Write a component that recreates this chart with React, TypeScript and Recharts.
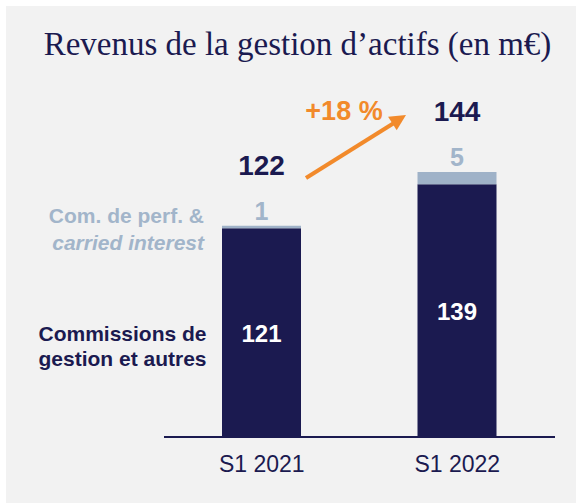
import React from 'react';
import { BarChart, Bar, XAxis, YAxis, LabelList } from 'recharts';

const periods = ['S1 2021', 'S1 2022'];
const commissions = [121, 139];
const perfCarried = [1, 5];
const totals = [122, 144];
const growthLabel = '+18 %';
const titleText = 'Revenus de la gestion d\u2019actifs (en m\u20ac)';

const NAVY = '#1b1a50';
const GREY = '#9fb2c8';
const GREY_TEXT = '#a2b5ca';
const ORANGE = '#f28a2b';
const BG = '#f2f2f2';
const FONT = '"Liberation Sans", Arial, sans-serif';

const W = 576;
const H = 503;
const MARGIN = { top: 84, right: 21, bottom: 26, left: 164 };
const X_AXIS_H = 40;
const PLOT_BOTTOM = H - MARGIN.bottom - X_AXIS_H;

const data = periods.map((p, i) => ({
  period: p,
  commissions: commissions[i],
  perf: perfCarried[i],
  total: totals[i],
}));

// label inside the navy bar, centred on the visible part only
const InnerLabel = (props: any) => {
  const { x, y, width, height, value } = props;
  const bottom = Math.min(y + height, PLOT_BOTTOM);
  return (
    <text
      x={x + width / 2}
      y={(y + bottom) / 2 + 9}
      textAnchor="middle"
      fill="#ffffff"
      fontFamily={FONT}
      fontWeight="bold"
      fontSize={24}
    >
      {value}
    </text>
  );
};

// perf value just above the grey cap, total further up
const TopLabel = (props: any) => {
  const { x, y, width, value, index } = props;
  const cx = x + width / 2;
  return (
    <g>
      <text x={cx} y={y - 6} textAnchor="middle" fill={GREY_TEXT} fontFamily={FONT} fontWeight="bold" fontSize={25}>
        {value}
      </text>
      <text x={cx} y={y - 51} textAnchor="middle" fill={NAVY} fontFamily={FONT} fontWeight="bold" fontSize={28}>
        {totals[index]}
      </text>
    </g>
  );
};

const PeriodTick = (props: any) => {
  const { x, y, payload } = props;
  return (
    <text x={x} y={y} dy="0.71em" textAnchor="middle" fill={NAVY} fontFamily={FONT} fontSize={23}>
      {payload.value}
    </text>
  );
};

export default function App() {
  return (
    <div style={{ position: 'absolute', left: 0, top: 0, width: W, height: H, background: '#ffffff' }}>
      <div style={{ position: 'absolute', left: 6, top: 6, width: W - 6, height: H - 6, background: BG }} />
      <div style={{ position: 'absolute', left: 0, top: 0 }}>
        <BarChart width={W} height={H} data={data} margin={MARGIN} barSize={79}>
          <XAxis
            dataKey="period"
            height={X_AXIS_H}
            axisLine={{ stroke: NAVY, strokeWidth: 2 }}
            tickLine={false}
            tickMargin={13}
            tick={<PeriodTick />}
          />
          <YAxis hide domain={[35.5, 180]} allowDataOverflow />
          <Bar dataKey="commissions" stackId="a" fill={NAVY} isAnimationActive={false}>
            <LabelList dataKey="commissions" content={<InnerLabel />} />
          </Bar>
          <Bar dataKey="perf" stackId="a" fill={GREY} isAnimationActive={false}>
            <LabelList dataKey="perf" content={<TopLabel />} />
          </Bar>
        </BarChart>
      </div>
      <svg width={W} height={H} style={{ position: 'absolute', left: 0, top: 0, pointerEvents: 'none' }}>
        <text
          x={297.5}
          y={55}
          textAnchor="middle"
          fill={NAVY}
          fontFamily='"Liberation Serif", "DejaVu Serif", serif'
          fontSize={33}
        >
          {titleText}
        </text>

        <text x={204} y={223} textAnchor="end" fill={GREY_TEXT} fontFamily={FONT} fontWeight="bold" fontSize={21}>
          Com. de perf. &amp;
        </text>
        <text x={204} y={250} textAnchor="end" fill={GREY_TEXT} fontFamily={FONT} fontWeight="bold" fontStyle="italic" fontSize={21}>
          carried interest
        </text>
        <text x={122.5} y={341} textAnchor="middle" fill={NAVY} fontFamily={FONT} fontWeight="bold" fontSize={21}>
          Commissions de
        </text>
        <text x={122.5} y={366} textAnchor="middle" fill={NAVY} fontFamily={FONT} fontWeight="bold" fontSize={21}>
          gestion et autres
        </text>

        <line x1={306} y1={178} x2={394} y2={123} stroke={ORANGE} strokeWidth={4} />
        <polygon points="406,115 396.7,130.3 388.1,116.7" fill={ORANGE} />
        <text x={344} y={120} textAnchor="middle" fill={ORANGE} fontFamily={FONT} fontWeight="bold" fontSize={27}>
          {growthLabel}
        </text>
      </svg>
    </div>
  );
}
